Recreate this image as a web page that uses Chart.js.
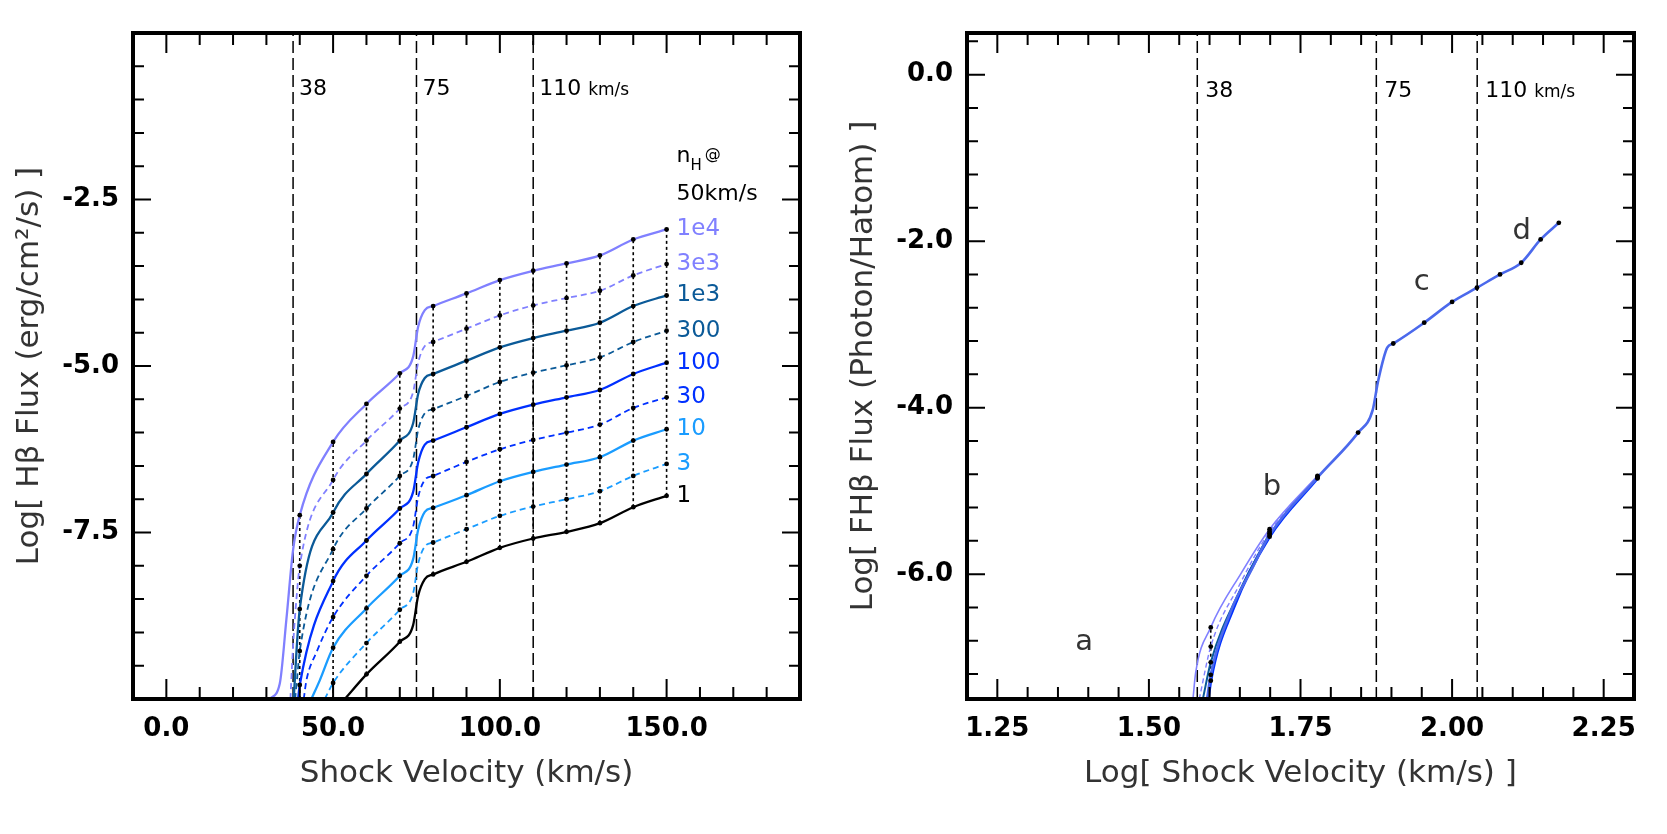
<!DOCTYPE html>
<html>
<head>
<meta charset="utf-8">
<script src="https://cdn.jsdelivr.net/npm/chart.js@4.4.1/dist/chart.umd.min.js"></script>
<style>
  html, body { margin: 0; padding: 0; background: #fff; }
  body { width: 1667px; height: 834px; position: relative; overflow: hidden; }
  .panel { position: absolute; top: 0; width: 833px; height: 834px; }
  #left { left: 0; }
  #right { left: 834px; }
</style>
</head>
<body>
<div class="panel" id="left"><canvas id="chart--left" width="833" height="834"></canvas></div>
<div class="panel" id="right"><canvas id="chart--right" width="833" height="834"></canvas></div>
<script>
// ---- Left panel: log Hβ flux vs shock velocity, one curve per n_H @ 50 km/s
const vel = [40, 50, 60, 70, 80, 90, 100, 110, 120, 130, 140, 150];
const jumpVel = [74, 75.5, 77.5];
const refVel = [38, 75, 110];

const flux1e4 = [-7.24, -6.14, -5.57, -5.11, -4.10, -3.91, -3.71, -3.57, -3.46, -3.34, -3.10, -2.95];
const flux3e3 = [-8.00, -6.71, -6.12, -5.64, -4.64, -4.44, -4.24, -4.09, -3.98, -3.87, -3.64, -3.47];
const flux1e3 = [-8.65, -7.20, -6.62, -6.12, -5.12, -4.92, -4.72, -4.58, -4.47, -4.35, -4.10, -3.94];
const flux300 = [-9.28, -7.75, -7.14, -6.65, -5.65, -5.45, -5.24, -5.10, -4.99, -4.87, -4.64, -4.47];
const flux100 = [-9.79, -8.23, -7.62, -7.14, -6.12, -5.92, -5.72, -5.58, -5.47, -5.36, -5.12, -4.95];
const flux30 = [null, -8.77, -8.15, -7.66, -6.65, -6.44, -6.25, -6.11, -6.00, -5.88, -5.63, -5.47];
const flux10 = [null, -9.23, -8.64, -8.15, -7.13, -6.94, -6.73, -6.59, -6.48, -6.37, -6.12, -5.95];
const flux3 = [null, -9.76, -9.16, -8.66, -7.65, -7.45, -7.25, -7.11, -7.00, -6.88, -6.65, -6.47];
const flux1 = [null, null, -9.63, -9.14, -8.13, -7.94, -7.73, -7.59, -7.49, -7.36, -7.12, -6.95];

// values across the 75 km/s jump
const jump1e4 = [-4.86, -4.41, -4.16];
const jump3e3 = [-5.39, -4.95, -4.70];
const jump1e3 = [-5.86, -5.42, -5.18];
const jump300 = [-6.40, -5.96, -5.71];
const jump100 = [-6.89, -6.45, -6.18];
const jump30 = [-7.41, -6.97, -6.71];
const jump10 = [-7.90, -7.46, -7.19];
const jump3 = [-8.41, -7.97, -7.71];
const jump1 = [-8.89, -8.45, -8.20];

// low-velocity ends, [velocity, log flux]
const tail1e4 = [[31, -10.0], [34, -9.77], [36, -8.8], [38, -7.76]];
const tail3e3 = [[37.2, -10.0], [38, -9.2], [39, -8.5]];
const tail1e3 = [[38.2, -10.0], [39, -9.3]];
const tail300 = [[38.6, -10.0], [39.2, -9.7]];
const tail100 = [[39.5, -10.0]];
const tail30 = [[41.2, -10.0], [42, -9.72], [45, -9.3]];
const tail10 = [[43.5, -10.0], [46, -9.72]];
const tail3 = [[47.5, -10.0]];
const tail1 = [[53.5, -10.0]];

const leftXTicks = [0, 50, 100, 150];
const leftYTicks = [-7.5, -5.0, -2.5];

// ---- Right panel: log photons per H atom vs log shock velocity
const logVel = [1.602, 1.699, 1.778, 1.845, 1.903, 1.954, 2.000, 2.041, 2.079, 2.114, 2.146, 2.176];
const photonFlux = [-7.21, -5.53, -4.84, -4.30, -3.23, -2.98, -2.73, -2.56, -2.40, -2.26, -1.98, -1.78];
const jumpLogVel = [1.869, 1.878, 1.893];
const jumpPhoton = [-4.03, -3.68, -3.28];
const lowPhoton = [[1.596, -7.5], [1.636, -6.43], [1.669, -5.95]];
const photon1e4 = [[1.5727, -7.5], [1.577, -7.19], [1.602, -6.64], [1.652, -5.99], [1.699, -5.46], [1.778, -4.82]];
const photon3e3 = [[1.583, -7.5], [1.602, -6.87], [1.65, -6.12], [1.699, -5.49], [1.778, -4.83]];
const photon1e3 = [[1.589, -7.5], [1.602, -7.06], [1.65, -6.2], [1.699, -5.51]];
const photon100 = [[1.598, -7.5], [1.602, -7.28], [1.64, -6.40], [1.699, -5.55], [1.778, -4.85]];

const rightXTicks = [1.25, 1.50, 1.75, 2.00, 2.25];
const rightYTicks = [-6, -4, -2, 0];

const FONT = "'DejaVu Sans', 'Noto Sans', sans-serif";
Chart.defaults.font.family = FONT;
Chart.defaults.color = "#000";

const LEFT = { xMin: -10, xMax: 190, yMin: -10, yMax: 0 };
const RIGHT = { xMin: 1.2, xMax: 2.3, yMin: -7.5, yMax: 0.5 };

const range = (a, b, step) => {
  const out = [];
  for (let v = a; v <= b + step / 1000; v += step) out.push(Math.round(v * 1000) / 1000);
  return out;
};

const leftSeries = [
  { label: "1e4", flux: flux1e4, jump: jump1e4, tail: tail1e4, color: "#8080ff", dash: [] },
  { label: "3e3", flux: flux3e3, jump: jump3e3, tail: tail3e3, color: "#8080ff", dash: [6, 4] },
  { label: "1e3", flux: flux1e3, jump: jump1e3, tail: tail1e3, color: "#0b5a98", dash: [] },
  { label: "300", flux: flux300, jump: jump300, tail: tail300, color: "#0b5a98", dash: [6, 4] },
  { label: "100", flux: flux100, jump: jump100, tail: tail100, color: "#0030ff", dash: [] },
  { label: "30", flux: flux30, jump: jump30, tail: tail30, color: "#0030ff", dash: [6, 4] },
  { label: "10", flux: flux10, jump: jump10, tail: tail10, color: "#1a9cff", dash: [] },
  { label: "3", flux: flux3, jump: jump3, tail: tail3, color: "#1a9cff", dash: [6, 4] },
  { label: "1", flux: flux1, jump: jump1, tail: tail1, color: "#000000", dash: [] },
];

const toPts = pairs => pairs.map(([x, y]) => ({ x, y }));
const byX = (a, b) => a.x - b.x;

function leftCurve(s) {
  const pts = toPts(s.tail);
  vel.forEach((v, i) => { if (s.flux[i] !== null) pts.push({ x: v, y: s.flux[i] }); });
  jumpVel.forEach((v, i) => pts.push({ x: v, y: s.jump[i] }));
  return pts.sort(byX);
}

const curve = (data, color, dash, width, order = 2) => ({
  data, borderColor: color, borderWidth: width, borderDash: dash,
  pointRadius: 0, cubicInterpolationMode: "monotone", order,
});
const refLine = (x, y0, y1) => ({
  data: [{ x, y: y0 }, { x, y: y1 }], borderColor: "#000", borderWidth: 1.5,
  borderDash: [12, 5], pointRadius: 0, order: 3,
});
const dotLine = (x, y0, y1) => ({
  data: [{ x, y: y0 }, { x, y: y1 }], borderColor: "#000", borderWidth: 1.6,
  borderDash: [3, 3], pointRadius: 0, order: 3,
});
const markerSet = data => ({
  data, showLine: false, pointRadius: 2.4, pointBackgroundColor: "#000",
  pointBorderWidth: 0, order: 0,
});

// dotted lines joining the models at each computed velocity
const dropLines = vel.map((v, i) => {
  const vals = leftSeries.map(s => s.flux[i]);
  const shown = vals.filter(y => y !== null);
  const low = shown.length < vals.length ? LEFT.yMin : Math.min(...shown);
  return dotLine(v, low, Math.max(...shown));
});

const leftMarkers = leftSeries.flatMap(s =>
  vel.map((v, i) => (s.flux[i] === null ? null : { x: v, y: s.flux[i] })).filter(Boolean));

const leftDatasets = [
  ...refVel.map(v => refLine(v, LEFT.yMin, LEFT.yMax)),
  ...dropLines,
  ...leftSeries.map(s => curve(leftCurve(s), s.color, s.dash, s.dash.length ? 1.8 : 2.3)),
  markerSet(leftMarkers),
];

// right panel
const rightLines = [
  { pts: photon1e4, color: "#8080ff", dash: [], width: 1.6 },
  { pts: photon3e3, color: "#8080ff", dash: [5, 3], width: 1.4 },
  { pts: photon1e3, color: "#0b5a98", dash: [], width: 2 },
  { pts: photon100, color: "#0030ff", dash: [], width: 3 },
];
const mainPhoton = toPts(lowPhoton)
  .concat(logVel.map((x, i) => ({ x, y: photonFlux[i] })))
  .concat(jumpLogVel.map((x, i) => ({ x, y: jumpPhoton[i] })))
  .sort(byX);

const rightMarkers = logVel.map((x, i) => ({ x, y: photonFlux[i] }))
  .concat(rightLines.flatMap(l => toPts(l.pts).filter(p => logVel.includes(p.x))));
const at40 = rightMarkers.filter(p => p.x === logVel[0]).map(p => p.y);

const rightDatasets = [
  ...refVel.map(v => refLine(Math.log10(v), RIGHT.yMin, RIGHT.yMax)),
  dotLine(logVel[0], Math.min(...at40), Math.max(...at40)),
  ...rightLines.map(l => curve(toPts(l.pts), l.color, l.dash, l.width, 2)),
  curve(mainPhoton, "#4b69ec", [], 2.6, 1),
  markerSet(rightMarkers),
];

const near = (list, v) => list.some(t => Math.abs(t - v) < 1e-6);

function framePlugin(xMinor, xMajor, yMinor, yMajor) {
  return {
    id: "frame",
    afterDraw(chart) {
      const { ctx, chartArea: { left, right, top, bottom }, scales: { x, y } } = chart;
      ctx.save();
      ctx.strokeStyle = "#000";
      ctx.lineWidth = 2;
      ctx.beginPath();
      xMinor.forEach(v => {
        const len = near(xMajor, v) ? 20 : 12;
        const px = x.getPixelForValue(v);
        ctx.moveTo(px, bottom); ctx.lineTo(px, bottom - len);
        ctx.moveTo(px, top); ctx.lineTo(px, top + len);
      });
      yMinor.forEach(v => {
        const len = near(yMajor, v) ? 18 : 11;
        const py = y.getPixelForValue(v);
        ctx.moveTo(left, py); ctx.lineTo(left + len, py);
        ctx.moveTo(right, py); ctx.lineTo(right - len, py);
      });
      ctx.stroke();
      ctx.lineWidth = 4;
      ctx.strokeRect(left, top, right - left, bottom - top);
      ctx.restore();
    },
  };
}

function drawParts(ctx, x, y, parts) {
  let cx = x;
  parts.forEach(p => {
    ctx.font = `${p.size}px ${FONT}`;
    ctx.fillStyle = p.color || "#000";
    ctx.fillText(p.text, cx, y + (p.dy || 0));
    cx += ctx.measureText(p.text).width + (p.gap || 0);
  });
}

function refLabels(ctx, x, y, xs, baseVal, dx) {
  ctx.textAlign = "left";
  ctx.textBaseline = "alphabetic";
  const by = y.getPixelForValue(baseVal);
  drawParts(ctx, x.getPixelForValue(xs[0]) + dx, by, [{ text: "38", size: 22 }]);
  drawParts(ctx, x.getPixelForValue(xs[1]) + dx, by, [{ text: "75", size: 22 }]);
  drawParts(ctx, x.getPixelForValue(xs[2]) + dx, by, [{ text: "110 ", size: 22 }, { text: "km/s", size: 17 }]);
}

const leftText = {
  id: "leftText",
  afterDatasetsDraw(chart) {
    const { ctx, scales: { x, y } } = chart;
    ctx.save();
    refLabels(ctx, x, y, refVel, -0.93, 6);
    const lx = x.getPixelForValue(vel[vel.length - 1]) + 10;
    ctx.textBaseline = "alphabetic";
    drawParts(ctx, lx, y.getPixelForValue(-1.93), [
      { text: "n", size: 22 },
      { text: "H", size: 15, dy: 8, gap: 3 },
      { text: "@", size: 16, dy: -3 },
    ]);
    drawParts(ctx, lx, y.getPixelForValue(-2.5), [{ text: "50km/s", size: 22 }]);
    ctx.textBaseline = "middle";
    leftSeries.forEach(s => {
      drawParts(ctx, lx, y.getPixelForValue(s.flux[s.flux.length - 1]), [{ text: s.label, size: 23, color: s.color }]);
    });
    ctx.restore();
  },
};

const rightNotes = [["a", 1.393, -6.82], ["b", 1.703, -4.96], ["c", 1.950, -2.50], ["d", 2.115, -1.89]];
const rightText = {
  id: "rightText",
  afterDatasetsDraw(chart) {
    const { ctx, scales: { x, y } } = chart;
    ctx.save();
    refLabels(ctx, x, y, refVel.map(v => Math.log10(v)), -0.27, 8);
    ctx.textAlign = "center";
    ctx.textBaseline = "middle";
    ctx.fillStyle = "#333";
    ctx.font = `29px ${FONT}`;
    rightNotes.forEach(([t, lv, f]) => ctx.fillText(t, x.getPixelForValue(lv), y.getPixelForValue(f)));
    ctx.restore();
  },
};

function panelOptions(lim, xTicks, yTicks, xDigits, xTitle, yTitle) {
  return {
    responsive: false,
    animation: false,
    layout: { padding: { top: 33, right: 33, bottom: 0, left: 0 } },
    plugins: { legend: { display: false }, tooltip: { enabled: false } },
    scales: {
      x: {
        type: "linear", min: lim.xMin, max: lim.xMax,
        grid: { display: false }, border: { display: false },
        afterBuildTicks: s => { s.ticks = xTicks.map(value => ({ value })); },
        afterFit: s => { s.height = 135; },
        ticks: {
          padding: 7, color: "#000", autoSkip: false, maxRotation: 0,
          font: { size: 26, weight: "bold" }, callback: v => Number(v).toFixed(xDigits),
        },
        title: { display: true, text: xTitle, color: "#333", font: { size: 31 }, padding: { top: 0, bottom: 41 } },
      },
      y: {
        type: "linear", min: lim.yMin, max: lim.yMax,
        grid: { display: false }, border: { display: false },
        afterBuildTicks: s => { s.ticks = yTicks.map(value => ({ value })); },
        afterFit: s => { s.width = 133; },
        ticks: {
          padding: 6, color: "#000", autoSkip: false,
          font: { size: 26, weight: "bold" }, callback: v => Number(v).toFixed(1),
        },
        title: { display: true, text: yTitle, color: "#333", font: { size: 31 }, padding: { top: 11, bottom: 0 } },
      },
    },
  };
}

new Chart(document.getElementById("chart--left"), {
  type: "line",
  data: { datasets: leftDatasets },
  options: panelOptions(LEFT, leftXTicks, leftYTicks, 1,
    "Shock Velocity (km/s)", "Log[ Hβ Flux (erg/cm²/s) ]"),
  plugins: [leftText, framePlugin(range(0, 180, 10), leftXTicks, range(-9.5, -0.5, 0.5), leftYTicks)],
});

new Chart(document.getElementById("chart--right"), {
  type: "line",
  data: { datasets: rightDatasets },
  options: panelOptions(RIGHT, rightXTicks, rightYTicks, 2,
    "Log[ Shock Velocity (km/s) ]", "Log[ FHβ Flux (Photon/Hatom) ]"),
  plugins: [rightText, framePlugin(range(1.25, 2.25, 0.05), rightXTicks, range(-7.2, 0.4, 0.4), rightYTicks)],
});
</script>
</body>
</html>
